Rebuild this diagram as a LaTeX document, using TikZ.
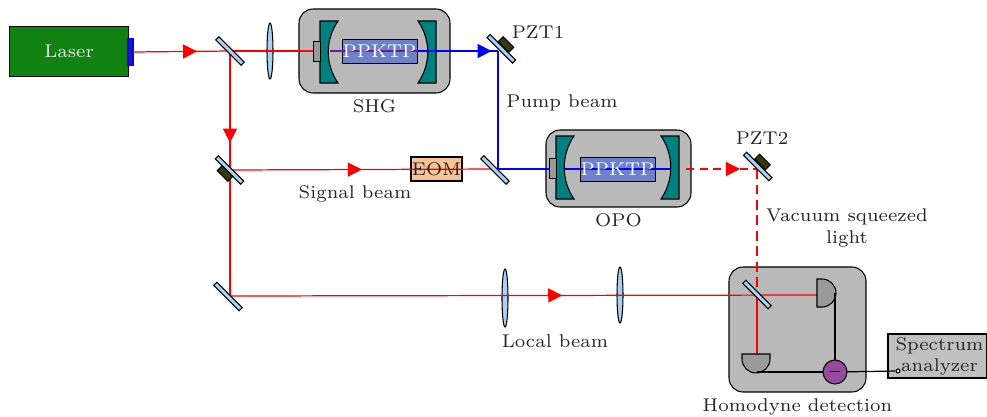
\documentclass[tikz,border=0pt]{standalone}
\usepackage{tikz}
\usetikzlibrary{positioning,arrows.meta,shapes.geometric,decorations.markings}
\usepackage{xcolor}
\definecolor{lasergreen}{HTML}{118211}
\definecolor{mirrorblue}{HTML}{A9D1F3}
\definecolor{cavteal}{HTML}{008080}
\definecolor{boxgray}{HTML}{B9B9B9}
\definecolor{crystalblue}{HTML}{6C82C9}
\definecolor{eomorange}{HTML}{F9C398}
\definecolor{pztdark}{HTML}{38380E}
\definecolor{subpurple}{HTML}{964B9C}
\definecolor{portgray}{HTML}{9A9A9A}
\definecolor{tipnavy}{HTML}{1F1F8C}
\definecolor{mixpurple}{HTML}{6A1F9A}
\tikzset{
  part/.style={draw, line width=0.6pt, inner sep=0pt, outer sep=0pt},
  mirror/.style={part, fill=mirrorblue, rotate=-45, minimum width=0.72cm, minimum height=0.09cm},
  pzt/.style={part, fill=pztdark, rotate=-45, minimum width=0.3cm, minimum height=0.14cm},
  lens/.style={part, ellipse, fill=mirrorblue, minimum width=0.12cm, minimum height=1.12cm},
  housing/.style={part, fill=boxgray, rounded corners=0.28cm},
  crystal/.style={part, line width=0.5pt, fill=crystalblue, minimum width=1.5cm, minimum height=0.48cm},
  port/.style={part, line width=0.4pt, fill=portgray, minimum width=0.14cm, minimum height=0.4cm},
  cavity/.style={draw, line width=0.6pt, fill=cavteal},
  detector/.style={draw, line width=0.6pt, fill=portgray},
  wire/.style={draw, line width=0.7pt},
  beam/.style={draw=red, line width=0.7pt},
  pump/.style={draw=blue, line width=0.7pt},
  lbl/.style={font=\scriptsize, scale=1.5, inner sep=0pt, align=center, text=black!85},
  tip/.style={postaction={decorate}, decoration={markings, mark=at position #1 with {\arrow{Triangle[length=0.28cm,width=0.28cm]}}}}
}
\begin{document}
\begin{tikzpicture}[x=0.02cm,y=-0.02cm]
\useasboundingbox (0,0) rectangle (987,416);

\node[housing, minimum width=3.02cm, minimum height=1.68cm] (shg) at (374.5,51) {};
\node[housing, minimum width=2.9cm, minimum height=1.54cm] (opo) at (618.5,168.5) {};
\node[housing, minimum width=2.74cm, minimum height=2.5cm] (hd) at (797.5,329.5) {};
\node[part, fill=boxgray!90!white, minimum width=1.98cm, minimum height=0.88cm] (sa) at (937.5,356) {};
\node[part, fill=lasergreen, minimum width=2.38cm, minimum height=1cm] (laser) at (69,51.5) {};
\node[part, draw=blue, fill=tipnavy, minimum width=0.1cm, minimum height=0.52cm] (ltip) at (130.5,52) {};
\node[part, fill=eomorange, minimum width=1.02cm, minimum height=0.48cm] (eom) at (436.5,169) {};
\node[crystal] (xshg) at (379.5,51.5) {};
\node[crystal] (xopo) at (617.5,169) {};
\node[lens] (l1) at (270,51) {};
\node[lens, minimum height=1.16cm] (l2) at (505,298) {};
\node[lens] (l3) at (620,295) {};
\draw[cavity] (436,21) -- (418,21) .. controls (431,40) and (431,64) .. (418,83) -- (436,83) -- cycle;
\draw[cavity] (679,136) -- (661,136) .. controls (674,155) and (674,180) .. (661,199) -- (679,199) -- cycle;

% where the beams meet the optics
\coordinate (hit1) at (230,51);
\coordinate (hit2) at (230,170);
\coordinate (hit3) at (230,296);
\coordinate (hit4) at (498,169);
\coordinate (hit5) at (498,51);
\coordinate (hit6) at (757,169);
\coordinate (hit7) at (757,295);
\coordinate (shgport) at (313,51);
\coordinate (opoport) at (549,169);
\coordinate (shgin) at (330,51);
\coordinate (shgout) at (418,51);
\coordinate (opoin) at (556,169);
\coordinate (opoout) at (670,169);
\coordinate (vacout) at (686,169);
\coordinate (da) at (817,295);
\coordinate (db) at (757,354);

\draw[beam, tip=0.66] (ltip.east) -- (hit1);
\draw[beam] (hit1) -- (shgport);
\draw[beam, tip=0.77] (hit1) -- (hit2);
\draw[beam] (hit2) -- (hit3);
\draw[beam, tip=0.492] (hit2) -- (hit4);
\draw[beam, tip=0.566] (hit3) -- (da);
\draw[beam, dash pattern=on 0.16cm off 0.11cm, tip=0.76] (vacout) -- (hit6);
\draw[beam, dash pattern=on 0.2cm off 0.11cm] (hit6) -- (hit7);
\draw[beam] (hit7) -- (db);
\draw[draw=mixpurple, line width=0.7pt] (shgin) -- (shgout);
\draw[pump, tip=0.92] (shgout) -- (hit5);
\draw[pump] (hit5) -- (hit4);
\draw[pump] (hit4) -- (opoport);
\draw[pump] (opoin) -- (opoout);

% optics on top of the beams
\node[mirror] (m1) at (230,51) {};
\node[mirror] (m2) at (229.5,170) {};
\node[pzt] (pz2) at (225,173.5) {};
\node[mirror] (m3) at (228,296.5) {};
\node[mirror] (m4) at (495,170) {};
\node[mirror] (pzt1) at (501.3,48.8) {};
\node[pzt] (pz1) at (506,44.5) {};
\node[mirror] (pzt2) at (757.7,166.5) {};
\node[pzt] (pz3) at (762.5,162) {};
\node[mirror] (bs) at (757,294.5) {};
\draw[cavity] (320,21) -- (338,21) .. controls (325,40) and (325,64) .. (338,83) -- (320,83) -- cycle;
\draw[cavity] (556,136) -- (574,136) .. controls (561,155) and (561,180) .. (574,199) -- (556,199) -- cycle;
\node[port] (pshg) at (316.5,51) {};
\node[port] (popo) at (552.5,168) {};

% detectors
\draw[detector] (817,279) -- (822,279) arc (-90:90:14) -- (817,307) -- cycle;
\draw[detector] (742,354) -- (770,354) -- (770,359) arc (0:180:14) -- cycle;
\coordinate (dat) at (835,293);
\coordinate (dbb) at (757,372);
\node[part, circle, fill=subpurple, minimum size=0.48cm, font=\normalsize] (sub) at (835,372) {$-$};
\node[draw, circle, fill=white, line width=0.6pt, inner sep=0pt, minimum size=0.08cm] (sap) at (898,371) {};
\draw[wire] (dat) -- (sub);
\draw[wire] (dbb) -- (sub);
\draw[wire] (sub) -- (sap);

\node[lbl, text=white!90!black] at (laser) {Laser};
\node[lbl, text=white] at (xshg) {PPKTP};
\node[lbl, text=white] at (xopo) {PPKTP};
\node[lbl] at (eom) {EOM};
\node[lbl, below=0.13cm of shg] {SHG};
\node[lbl, below=0.13cm of opo] {OPO};
\node[lbl, below=0.13cm of hd] {Homodyne detection};
\node[lbl] (pl1) at (538,32) {PZT1};
\node[lbl] (pl2) at (762,138) {PZT2};
\node[lbl] (pb) at (562,103) {Pump beam};
\node[lbl] (sb) at (355,194) {Signal beam};
\node[lbl] (lb) at (555,341) {Local beam};
\node[lbl] (vl) at (847,228) {Vacuum squeezed\\light};
\node[lbl] at (939.5,356) {Spectrum\\analyzer};
\end{tikzpicture}
\end{document}
